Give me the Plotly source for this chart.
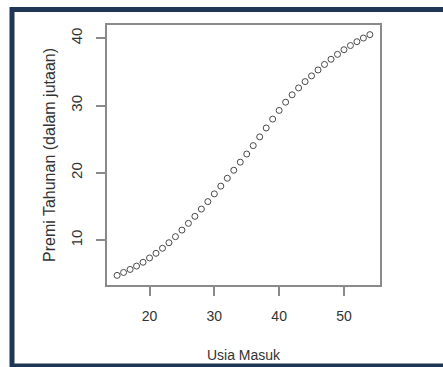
import plotly.graph_objects as go

usia_masuk = list(range(15, 55))
premi_tahunan = [4.77, 5.20, 5.65, 6.15, 6.72, 7.36, 8.05, 8.80, 9.62, 10.52,
                 11.50, 12.50, 13.54, 14.62, 15.73, 16.88, 18.03, 19.20, 20.39, 21.59,
                 22.80, 24.05, 25.35, 26.67, 27.99, 29.28, 30.50, 31.60, 32.62, 33.56,
                 34.41, 35.29, 36.11, 36.88, 37.61, 38.30, 38.92, 39.49, 40.03, 40.54]
x_ticks = [20, 30, 40, 50]
y_ticks = [10, 20, 30, 40]


def r_range(v):
    lo, hi = min(v), max(v)
    d = (hi - lo) * 0.04
    return [lo - d, hi + d]


txt = "#333333"
axis_col = "#8a8a8a"
fig = go.Figure()
fig.add_trace(go.Scatter(
    x=usia_masuk, y=premi_tahunan, mode="markers",
    marker=dict(symbol="circle-open", size=6, color="#4a4a4a", line=dict(width=1, color="#4a4a4a")),
    showlegend=False,
))

fig.update_layout(
    template="none",
    width=443, height=367,
    margin=dict(l=107, r=63, t=25, b=82),
    paper_bgcolor="white", plot_bgcolor="white",
    font=dict(family="Liberation Sans, Arial, sans-serif", color=txt),
    xaxis=dict(
        automargin=False,
        range=r_range(usia_masuk), tickvals=x_ticks, ticks="outside", ticklen=9,
        tickcolor=axis_col, tickwidth=1.5, showline=True, linecolor=axis_col, linewidth=1.5,
        mirror=True, showgrid=False, zeroline=False, tickfont=dict(size=14, color=txt),
        ticklabelstandoff=8,
        title=dict(text="Usia Masuk", font=dict(size=14, color=txt), standoff=28),
    ),
    yaxis=dict(
        automargin=False,
        range=r_range(premi_tahunan), tickvals=y_ticks, ticks="outside", ticklen=9,
        tickcolor=axis_col, tickwidth=1.5, showline=True, linecolor=axis_col, linewidth=1.5,
        mirror=True, showgrid=False, zeroline=False, tickangle=-90,
        tickfont=dict(size=15, color=txt), ticklabelstandoff=8,
        title=dict(text="Premi Tahunan (dalam jutaan)", font=dict(size=16, color=txt), standoff=9),
    ),
)

# dark outer frame
fig.add_shape(type="rect", xref="paper", yref="paper",
              x0=(12 - 107) / 273, x1=(460 - 107) / 273,
              y0=(285 - 366) / 260, y1=1 + (25 - 9.5) / 260,
              line=dict(color="#1f3754", width=5), layer="above")

fig.write_html("out.html", post_script="document.body.style.margin='0';",
               config={"displayModeBar": False})
